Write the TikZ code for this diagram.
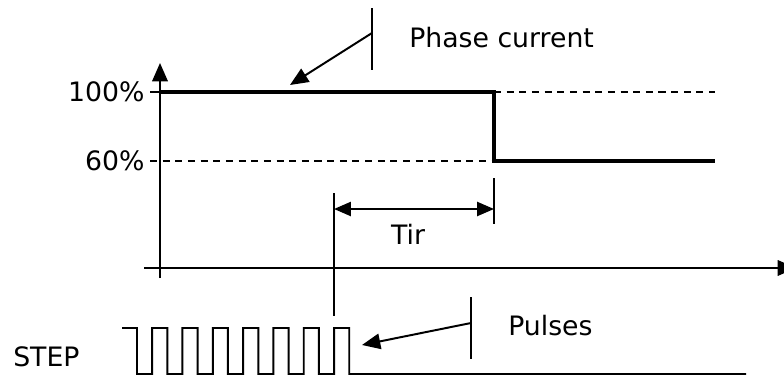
\documentclass[tikz,border=0pt]{standalone}
\usepackage{fontspec}
\setmainfont{DejaVu Sans}
\usetikzlibrary{arrows.meta}
\begin{document}
\begin{tikzpicture}[x=1cm,y=1cm,
  thinline/.style={line width=1.4pt},
  levelline/.style={line width=2.8pt},
  guide/.style={line width=0.9pt,dash pattern=on 5pt off 4pt},
  tipend/.style={-{Triangle[length=13pt,width=11pt]}},
  lbl/.style={font=\fontsize{19}{23}\selectfont,inner sep=0pt}]
  \useasboundingbox (0,0) rectangle (19.6,9.4);
  % axes
  \draw[thinline,tipend] (4,2.45) -- (4,7.825);
  \draw[thinline,tipend] (3.6,2.7) -- (19.9,2.7);
  \draw[thinline] (3.75,7.1) -- (4,7.1);
  % current levels
  \draw[guide] (3.75,5.375) -- (12.35,5.375);
  \draw[guide] (12.35,7.1) -- (17.875,7.1);
  \draw[levelline] (4,7.1) -- (12.35,7.1) -- (12.35,5.375) -- (17.875,5.375);
  \node[lbl,anchor=east] (hundred) at (3.62,7.1) {100\%};
  \node[lbl,anchor=east] (sixty) at (3.62,5.375) {60\%};
  % Tir
  \coordinate (tirA) at (8.35,4.175);
  \coordinate (tirB) at (12.35,4.175);
  \draw[thinline] (8.35,4.575) -- (8.35,1.5);
  \draw[thinline] (12.35,4.95) -- (12.35,3.8);
  \draw[thinline,{Triangle[length=12pt,width=10pt]}-{Triangle[length=12pt,width=10pt]}] (tirA) -- (tirB);
  \node[lbl] (tir) at (10.2,3.55) {Tir};
  % callouts
  \draw[thinline] (9.3,9.2) -- (9.3,7.65);
  \coordinate (phasefrom) at (9.3,8.575);
  \coordinate (phaseto) at (7.25,7.275);
  \draw[thinline,tipend] (phasefrom) -- (phaseto);
  \node[lbl,anchor=west] (phase) at (10.225,8.45) {Phase current};
  \draw[thinline] (11.775,1.975) -- (11.775,0.425);
  \coordinate (pulsefrom) at (11.775,1.325);
  \coordinate (pulseto) at (9.05,0.775);
  \draw[thinline,tipend] (pulsefrom) -- (pulseto);
  \node[lbl,anchor=west] (pulses) at (12.7,1.25) {Pulses};
  % step train
  \node[lbl,anchor=west] (step) at (0.325,0.49) {STEP};
  \draw[thinline] (3.05,1.2) -- (3.425,1.2)
    \foreach \k in {1,...,7} { -- ++(0,-1.15) -- ++(0.379,0) -- ++(0,1.15) -- ++(0.379,0) }
    -- ++(0,-1.15) -- (18.65,0.05);
\end{tikzpicture}
\end{document}
